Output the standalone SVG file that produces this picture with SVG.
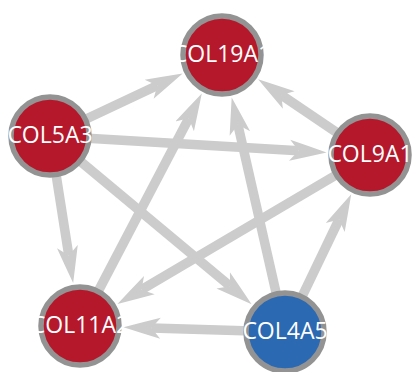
<svg xmlns="http://www.w3.org/2000/svg" width="412" height="372" viewBox="0 0 412 372">
<style>
.edge{stroke:#cccccc;stroke-width:9.5;fill:none;marker-end:url(#arr)}
.node circle{stroke:#939393;stroke-width:5.5}
.red{fill:#b5182b}
.blue{fill:#2b69b3}
.node text{fill:#ffffff;font-family:"Open Sans","DejaVu Sans",sans-serif;font-size:23px;text-anchor:middle}
</style>
<defs>
<marker id="arr" markerUnits="userSpaceOnUse" markerWidth="42" markerHeight="26" viewBox="0 -13 42 26" refX="9" refY="0" orient="auto">
<path d="M0,-10.5 Q18,-5.5 37,0 Q18,5.5 0,10.5 L9,0 Z" fill="#cccccc"/>
</marker>
</defs>
<rect width="412" height="372" fill="#ffffff"/>
<g id="edges">
<line class="edge" x1="50" y1="136" x2="157.3" y2="85.5"/>
<line class="edge" x1="50" y1="136" x2="298.6" y2="150.8"/>
<line class="edge" x1="50" y1="136" x2="68.8" y2="255.4"/>
<line class="edge" x1="50" y1="136" x2="230.1" y2="286.2"/>
<line class="edge" x1="370" y1="155" x2="281.3" y2="95"/>
<line class="edge" x1="370" y1="155" x2="141.6" y2="289.7"/>
<line class="edge" x1="80" y1="326" x2="188.8" y2="118.3"/>
<line class="edge" x1="285" y1="332" x2="237.9" y2="124.7"/>
<line class="edge" x1="285" y1="332" x2="339.1" y2="219.4"/>
<line class="edge" x1="285" y1="332" x2="151.5" y2="328.1"/>
</g>
<g id="COL19A1" class="node"><circle class="red" cx="222" cy="55" r="39"/><text x="222" y="62">COL19A1</text></g>
<g id="COL5A3" class="node"><circle class="red" cx="50" cy="136" r="39"/><text x="50" y="143">COL5A3</text></g>
<g id="COL9A1" class="node"><circle class="red" cx="370" cy="155" r="39"/><text x="370" y="162">COL9A1</text></g>
<g id="COL11A2" class="node"><circle class="red" cx="80" cy="326" r="39"/><text x="80" y="333">COL11A2</text></g>
<g id="COL4A5" class="node"><circle class="blue" cx="285" cy="332" r="39"/><text x="285" y="339">COL4A5</text></g>
</svg>
